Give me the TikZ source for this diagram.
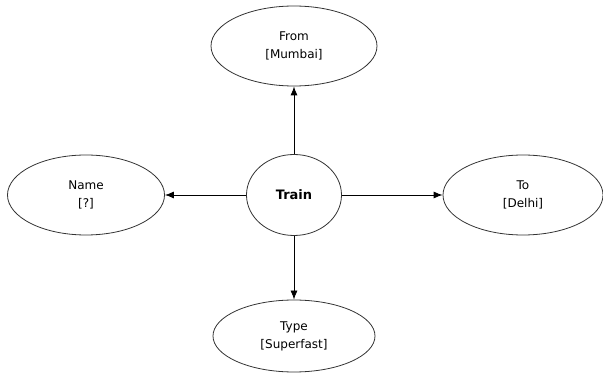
\documentclass[tikz,border=0pt]{standalone}
\usepackage{fontspec}
\setmainfont{DejaVu Sans}
\usetikzlibrary{shapes.geometric,arrows.meta}

\begin{document}
\begin{tikzpicture}[x=1pt,y=1pt,
    attr/.style={draw=black!80,line width=0.8pt,ellipse,inner sep=0pt,align=center,
      font=\fontsize{12}{18}\selectfont},
    link/.style={draw,line width=0.8pt,-{Latex[length=9pt,width=7pt]}}]
      \path[use as bounding box] (0,0) rectangle (603,-374);
      \node[attr,minimum width=95,minimum height=81,font=\fontsize{13}{15}\selectfont\bfseries] (train) at (294,-195) {Train};
      \node[attr,minimum width=166,minimum height=80] (from) at (294,-46) {From\\{[Mumbai]}};
      \node[attr,minimum width=157,minimum height=80] (name) at (86,-195) {Name\\{[?]}};
      \node[attr,minimum width=160,minimum height=80] (to) at (523,-195) {To\\{[Delhi]}};
      \node[attr,minimum width=162,minimum height=72] (type) at (294,-336) {Type\\{[Superfast]}};
      \path[link] (train) -- (from);
      \path[link] (train) -- (name);
      \path[link] (train) -- (to);
      \path[link] (train) -- (type);
    \end{tikzpicture}
\end{document}
